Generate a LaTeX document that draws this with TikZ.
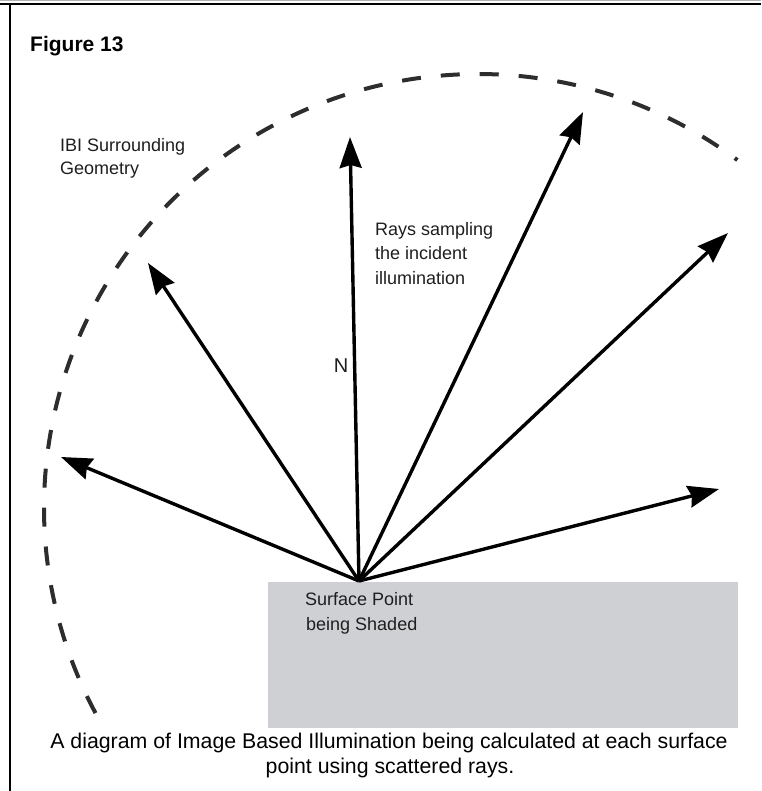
\documentclass[tikz,border=0pt]{standalone}
\usepackage{fontspec}
\setmainfont{Liberation Sans}
\usetikzlibrary{arrows.meta}
\definecolor{surfacegray}{RGB}{207,208,211}
\definecolor{domegray}{RGB}{45,45,45}
\definecolor{labelink}{RGB}{30,30,30}
\begin{document}
\begin{tikzpicture}[x=1pt,y=-1pt,
  ray/.style={line width=3.4pt,-{Stealth[length=31pt,width=22pt,inset=3pt]}},
  domearc/.style={domegray,line width=4pt,dash pattern=on 19pt off 20pt},
  lbl/.style={font=\fontsize{18}{23}\selectfont,text=labelink,inner sep=0pt,anchor=base west},
  caption/.style={font=\fontsize{21.3}{25}\selectfont,inner sep=0pt,anchor=base},
  titletext/.style={font=\fontsize{21}{25}\selectfont\bfseries,inner sep=0pt,anchor=base west}]

\useasboundingbox (0,0) rectangle (761,791);

% frame lines
\draw[gray!60,line width=0.8pt] (0,0.8) -- (761,0.8);
\draw[line width=2pt] (0,3.6) -- (761,3.6);
\draw[line width=2pt] (10,3.6) -- (10,791);

% shaded surface
\fill[surfacegray] (268,582) rectangle (738,728);

% surrounding geometry (dashed dome)
\draw[domearc] plot[domain=151.8:306.7,samples=160,smooth]
  ({478+434*cos(\x)},{508+434*sin(\x)});

% surface point and ray ends
\coordinate (o) at (359,581);
\coordinate (r1) at (61,457);
\coordinate (r2) at (148,263);
\coordinate (rn) at (350,137);
\coordinate (r4) at (583,112);
\coordinate (r5) at (728,233);
\coordinate (r6) at (719,489);

\draw[ray] (o) -- (r1);
\draw[ray] (o) -- (r2);
\draw[ray] (o) -- (rn);
\draw[ray] (o) -- (r4);
\draw[ray] (o) -- (r5);
\draw[ray] (o) -- (r6);

% labels
\node[titletext] (title) at (30,52) {Figure 13};
\node[lbl] (ibi1) at (60,152) {IBI Surrounding};
\node[lbl] (ibi2) at (60,175) {Geometry};
\node[lbl] (rays1) at (375,236) {Rays sampling};
\node[lbl] (rays2) at (375,260) {the incident};
\node[lbl] (rays3) at (375,284) {illumination};
\node[lbl,anchor=base,font=\fontsize{20}{24}\selectfont] (nlabel) at (341,372) {N};
\node[lbl] (sp1) at (305,605) {Surface Point};
\node[lbl] (sp2) at (306,630) {being Shaded};
\node[caption] (cap1) at (389,748) {A diagram of Image Based Illumination being calculated at each surface};
\node[caption] (cap2) at (390,773) {point using scattered rays.};
\end{tikzpicture}
\end{document}
